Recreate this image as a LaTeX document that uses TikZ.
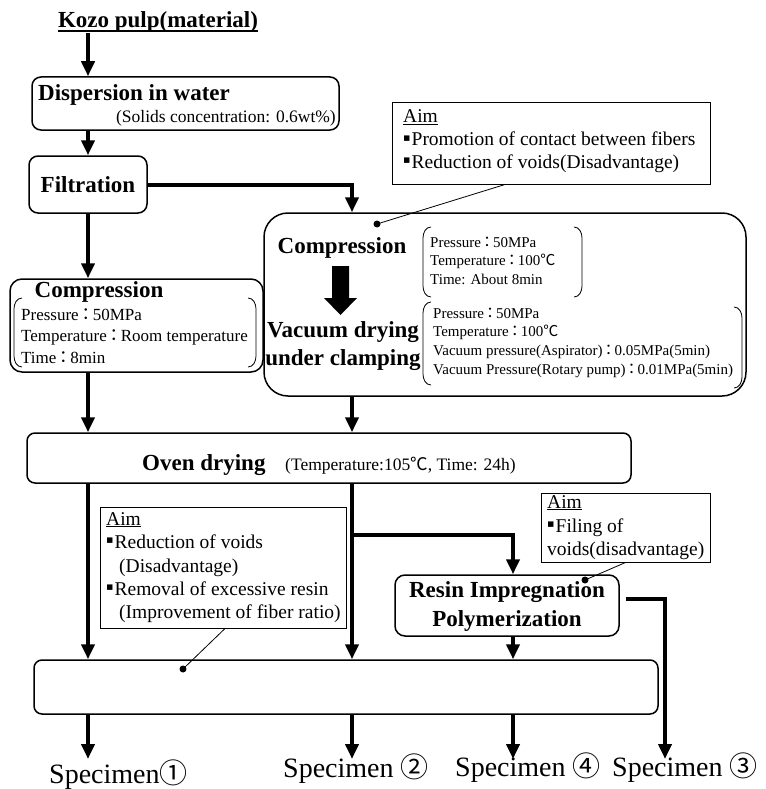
\documentclass[tikz,border=0pt]{standalone}
\usepackage{fontspec}
\setmainfont{Liberation Serif}
\newfontfamily\cjk{Noto Sans CJK JP}
\newfontfamily\dvs{DejaVu Sans}
\usetikzlibrary{arrows.meta}
\newcommand{\dgc}{{\cjk ℃}}
\newcommand{\fcl}{{\cjk\hspace{-1.5pt}：\hspace{-1.5pt}}}
\newcommand{\sqd}{\raisebox{4.5pt}{\dvs\fontsize{11}{11}\selectfont ▪}\hspace{1pt}}
\begin{document}
\begin{tikzpicture}[x=1pt,y=-1pt,
  flow/.style={line width=4pt,-{Triangle[width=13pt,length=15pt]}},
  box/.style={draw,line width=1.5pt,rounded corners=9pt,inner sep=0},
  aimbox/.style={draw,line width=1pt,inner sep=0},
  lead/.style={line width=0.8pt},
  brk/.style={line width=0.8pt},
  head/.style={font=\fontsize{23}{29}\selectfont\bfseries,inner sep=0},
  note/.style={font=\fontsize{17.5}{21}\selectfont,inner sep=0},
  par/.style={font=\fontsize{17}{21}\selectfont,inner sep=0,anchor=base west},
  sml/.style={font=\fontsize{15}{18}\selectfont,inner sep=0,anchor=base west},
  aimt/.style={font=\fontsize{19.5}{22}\selectfont,inner sep=0,anchor=base west},
  spec/.style={font=\fontsize{28}{30}\selectfont,inner sep=0,anchor=base west}]
\useasboundingbox (0,0) rectangle (765,789);
\coordinate (colA) at (88,0);
\coordinate (colB) at (352,0);
\coordinate (colC) at (513,0);
\coordinate (colD) at (665,0);
\coordinate (stop) at (0,759);

% material and first steps
\node[head,anchor=base] (kozo) at (158,28) {Kozo pulp(material)};
\draw[line width=1.6pt] ([yshift=-3pt]kozo.base west) -- ([yshift=-3pt]kozo.base east);
\node[box,minimum width=307pt,minimum height=53pt] (disp) at (185.5,103.5) {};
\node[head,anchor=base west] (disph) at (38,101) {Dispersion in water};
\node[note,anchor=base east] (dispn) at (336,122) {(Solids concentration: 0.6wt\%)};
\node[box,minimum width=118pt,minimum height=57pt] (filt) at (88,184.5) {};
\node[head] (filth) at (filt) {Filtration};

% compression at room temperature
\node[box,rounded corners=12pt,minimum width=253pt,minimum height=93pt] (compL) at (136.5,325.5) {};
\node[head,anchor=base] (compLh) at (99,297) {Compression};
\foreach \t [count=\i] in {Pressure\fcl 50MPa, Temperature\fcl Room temperature, Time\fcl 8min}
  \node[par] (compLp\i) at (21,{320+21.5*(\i-1)}) {\t};
\draw[brk] (22,298) to[out=180,in=90] (14,309) -- (14,356) to[out=-90,in=180] (22,367);
\draw[brk] (248,298) to[out=0,in=90] (256,309) -- (256,356) to[out=-90,in=0] (248,367);

% hot compression and vacuum drying
\node[box,rounded corners=24pt,minimum width=482pt,minimum height=183pt] (big) at (505,304.5) {};
\node[head,anchor=base] (bigc) at (342,253) {Compression};
\fill (332,266) -- (349,266) -- (349,298) -- (357,298) -- (340.5,315) -- (324,298) -- (332,298) -- cycle;
\node[head,anchor=base] (bigv1) at (343,337) {Vacuum drying};
\node[head,anchor=base] (bigv2) at (343,365) {under clamping};
\foreach \t [count=\i] in {Pressure\fcl 50MPa, Temperature\fcl 100\dgc, Time: About 8min}
  \node[sml] (pA\i) at (430,{247+18.5*(\i-1)}) {\t};
\foreach \t [count=\i] in {Pressure\fcl 50MPa, Temperature\fcl 100\dgc, Vacuum pressure(Aspirator)\fcl 0.05MPa(5min), Vacuum Pressure(Rotary pump)\fcl 0.01MPa(5min)}
  \node[sml] (pB\i) at (433,{318+18.7*(\i-1)}) {\t};
\draw[brk] (431,227) to[out=180,in=90] (423,238) -- (423,286) to[out=-90,in=180] (431,297);
\draw[brk] (574,227) to[out=0,in=90] (582,238) -- (582,286) to[out=-90,in=0] (574,297);
\draw[brk] (431,302) to[out=180,in=90] (423,313) -- (423,374) to[out=-90,in=180] (431,385);
\draw[brk] (734,307) to[out=0,in=90] (742,318) -- (742,377) to[out=-90,in=0] (734,388);

% aim of hot compression
\node[aimbox,minimum width=318pt,minimum height=81pt] (aimA) at (551,143.5) {};
\node[aimt] (aimA1) at (403,123) {\underline{Aim}};
\node[aimt] (aimA2) at (403,146) {\sqd Promotion of contact between fibers};
\node[aimt] (aimA3) at (403,168) {\sqd Reduction of voids(Disadvantage)};
\coordinate (dotA) at (377,224);
\fill (dotA) circle (3.5pt);
\draw[lead] (dotA) -- ([xshift=-46pt]aimA.south);

% oven drying
\node[box,rounded corners=8pt,minimum width=604pt,minimum height=50pt] (oven) at (329,458) {};
\node[head,anchor=base west] (ovenh) at (142,470) {Oven drying};
\node[note,anchor=base west] (ovenn) at (285,470) {(Temperature:105\dgc, Time: 24h)};

% aim of final compression
\node[aimbox,minimum width=246pt,minimum height=121pt] (aimB) at (223,567.5) {};
\node[aimt] (aimB1) at (106,525) {\underline{Aim}};
\node[aimt] (aimB2) at (106,548) {\sqd Reduction of voids};
\node[aimt] (aimB3) at (119,572) {(Disadvantage)};
\node[aimt] (aimB4) at (106,595) {\sqd Removal of excessive resin};
\node[aimt] (aimB5) at (119,618) {(Improvement of fiber ratio)};

% resin impregnation
\node[box,rounded corners=10pt,minimum width=224pt,minimum height=61pt] (resin) at (507,605.5) {};
\node[head,align=center] (resinh) at (507,606) {Resin Impregnation\\Polymerization};
\node[aimbox,minimum width=169pt,minimum height=69pt] (aimC) at (625.5,527.5) {};
\node[aimt] (aimC1) at (547,508) {\underline{Aim}};
\node[aimt] (aimC2) at (547,532) {\sqd Filing of};
\node[aimt] (aimC3) at (547,555) {voids(disadvantage)};
\coordinate (dotC) at (585,580);
\fill (dotC) circle (3.5pt);
\draw[lead] (dotC) -- (aimC.south);

% final step
\node[box,rounded corners=8pt,minimum width=624pt,minimum height=54pt] (bot) at (346,687) {};
\coordinate (dotB) at (183,669);
\fill (dotB) circle (3.5pt);
\draw[lead] (dotB) -- ([xshift=2pt]aimB.south);

\node[spec] (s1) at (49,783) {Specimen{\cjk ①}};
\node[spec] (s2) at (283,777) {Specimen {\cjk ②}};
\node[spec] (s4) at (455,776) {Specimen {\cjk ④}};
\node[spec] (s3) at (612,776) {Specimen {\cjk ③}};

% flow
\draw[flow] (kozo.south -| colA) -- (disp.north -| colA);
\draw[flow] (disp.south -| colA) -- (filt.north);
\draw[flow] (filt.south) -- (compL.north -| colA);
\draw[flow] (filt.east) -| (big.north -| colB);
\draw[flow] (compL.south -| colA) -- (oven.north -| colA);
\draw[flow] (big.south -| colB) -- (oven.north -| colB);
\draw[flow] (oven.south -| colA) -- (bot.north -| colA);
\draw[flow] (oven.south -| colB) -- (bot.north -| colB);
\coordinate (fork) at (352,535);
\draw[flow] (fork) -| (resin.north -| colC);
\draw[flow] (resin.south -| colC) -- (bot.north -| colC);
\draw[flow] ([shift={(6,-7)}]resin.east) -| (stop -| colD);
\draw[flow] (bot.south -| colA) -- (stop -| colA);
\draw[flow] (bot.south -| colB) -- (stop -| colB);
\draw[flow] (bot.south -| colC) -- (stop -| colC);
\end{tikzpicture}
\end{document}
